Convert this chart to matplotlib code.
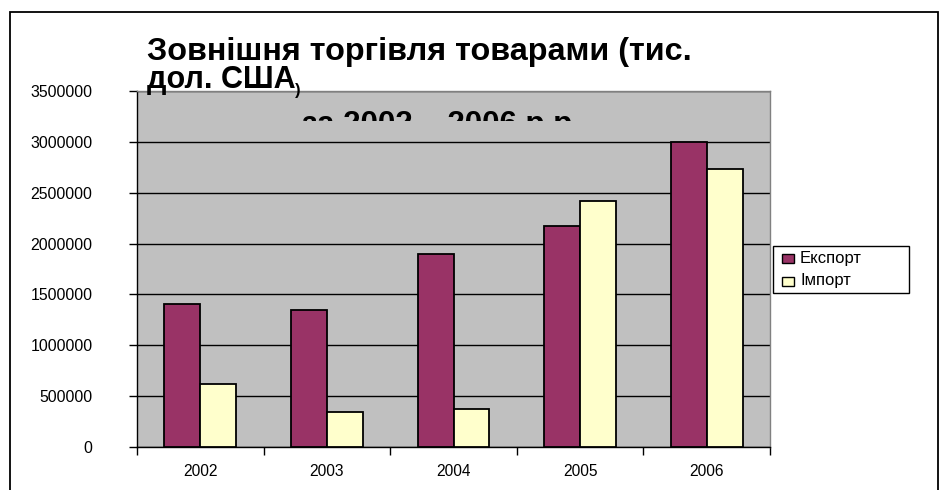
import matplotlib
matplotlib.use("Agg")
import matplotlib.pyplot as plt
from matplotlib.patches import Rectangle
from matplotlib.transforms import Bbox
import numpy as np

plt.rcParams['font.family'] = ['Liberation Sans', 'DejaVu Sans']

years = ["2002", "2003", "2004", "2005", "2006"]
export_vals = [1410000, 1350000, 1900000, 2170000, 3000000]
import_vals = [620000, 340000, 370000, 2420000, 2730000]
series_names = ["Експорт", "Імпорт"]
series_colors = ["#993366", "#FFFFCC"]
y_ticks = [0, 500000, 1000000, 1500000, 2000000, 2500000, 3000000, 3500000]

W, H = 946, 490
fig = plt.figure(figsize=(W / 100, H / 100), dpi=100)
fig.patch.set_facecolor("white")

def fx(px):
    return px / W

def fy(py):
    return 1 - py / H

# plot area
left, right, top, bottom = 137, 770, 91, 447
ax = fig.add_axes([fx(left), fy(bottom), fx(right - left), (bottom - top) / H])
ax.set_facecolor("#C0C0C0")

x = np.arange(len(years))
bw = 0.284
ax.bar(x - bw / 2, export_vals, width=bw, color=series_colors[0], edgecolor="black",
       linewidth=1.3, zorder=3)
ax.bar(x + bw / 2, import_vals, width=bw, color=series_colors[1], edgecolor="black",
       linewidth=1.3, zorder=3)

ax.set_xlim(-0.5, len(years) - 0.5)
ax.set_ylim(0, 3500000)
ax.set_yticks(y_ticks)
ax.set_yticklabels([str(v) for v in y_ticks], fontsize=11.4)
ax.yaxis.grid(True, color="black", linewidth=1.0, zorder=1)
ax.set_axisbelow(True)

# category labels centred, ticks on category boundaries
ax.set_xticks(np.arange(-0.5, len(years) + 0.5, 1.0))
ax.set_xticklabels([])
ax.set_xticks(x, minor=True)
ax.set_xticklabels(years, minor=True, fontsize=11.2)
ax.tick_params(axis="x", which="minor", length=0, pad=12)
ax.tick_params(axis="x", which="major", length=6, width=1, color="black", direction="out")
ax.tick_params(axis="y", length=6, width=1, direction="out", pad=26)

for side in ("left", "bottom"):
    ax.spines[side].set_color("black")
    ax.spines[side].set_linewidth(1.0)
for side in ("top", "right"):
    ax.spines[side].set_color("#808080")
    ax.spines[side].set_linewidth(1.0)

# legend box, drawn in figure pixels
lx0, ly0, lx1, ly1 = 773, 246, 909, 293
fig.add_artist(Rectangle((fx(lx0), fy(ly1)), fx(lx1 - lx0), (ly1 - ly0) / H,
                         transform=fig.transFigure, facecolor="white",
                         edgecolor="black", linewidth=1.0, zorder=5))
for i, (name, col) in enumerate(zip(series_names, series_colors)):
    cy = 258 + i * 23
    fig.add_artist(Rectangle((fx(782), fy(cy + 4.5)), fx(12), 9 / H,
                             transform=fig.transFigure, facecolor=col,
                             edgecolor="black", linewidth=1.0, zorder=6))
    fig.text(fx(800), fy(cy), name, fontsize=12, va="center", ha="left", zorder=6)

# title lines
tfont = dict(fontweight="bold", color="black", va="baseline", ha="left")
fig.text(fx(147), fy(60), "Зовнішня торгівля товарами (тис.", fontsize=23.3, **tfont)
fig.text(fx(147), fy(88), "дол. США", fontsize=22, **tfont)
fig.text(fx(295), fy(95), ")", fontsize=12, **tfont)
t3 = fig.text(fx(302), fy(133), "за 2002 – 2006 р.р.", fontsize=22.5, **tfont)
t3.set_clip_box(Bbox.from_extents(0, H - 121, W, H))
t3.set_clip_on(True)

# outer chart border
fig.add_artist(Rectangle((fx(10), fy(496)), fx(938 - 10), (496 - 12) / H,
                         transform=fig.transFigure, fill=False,
                         edgecolor="black", linewidth=1.3))

fig.savefig("out.png", dpi=100)
